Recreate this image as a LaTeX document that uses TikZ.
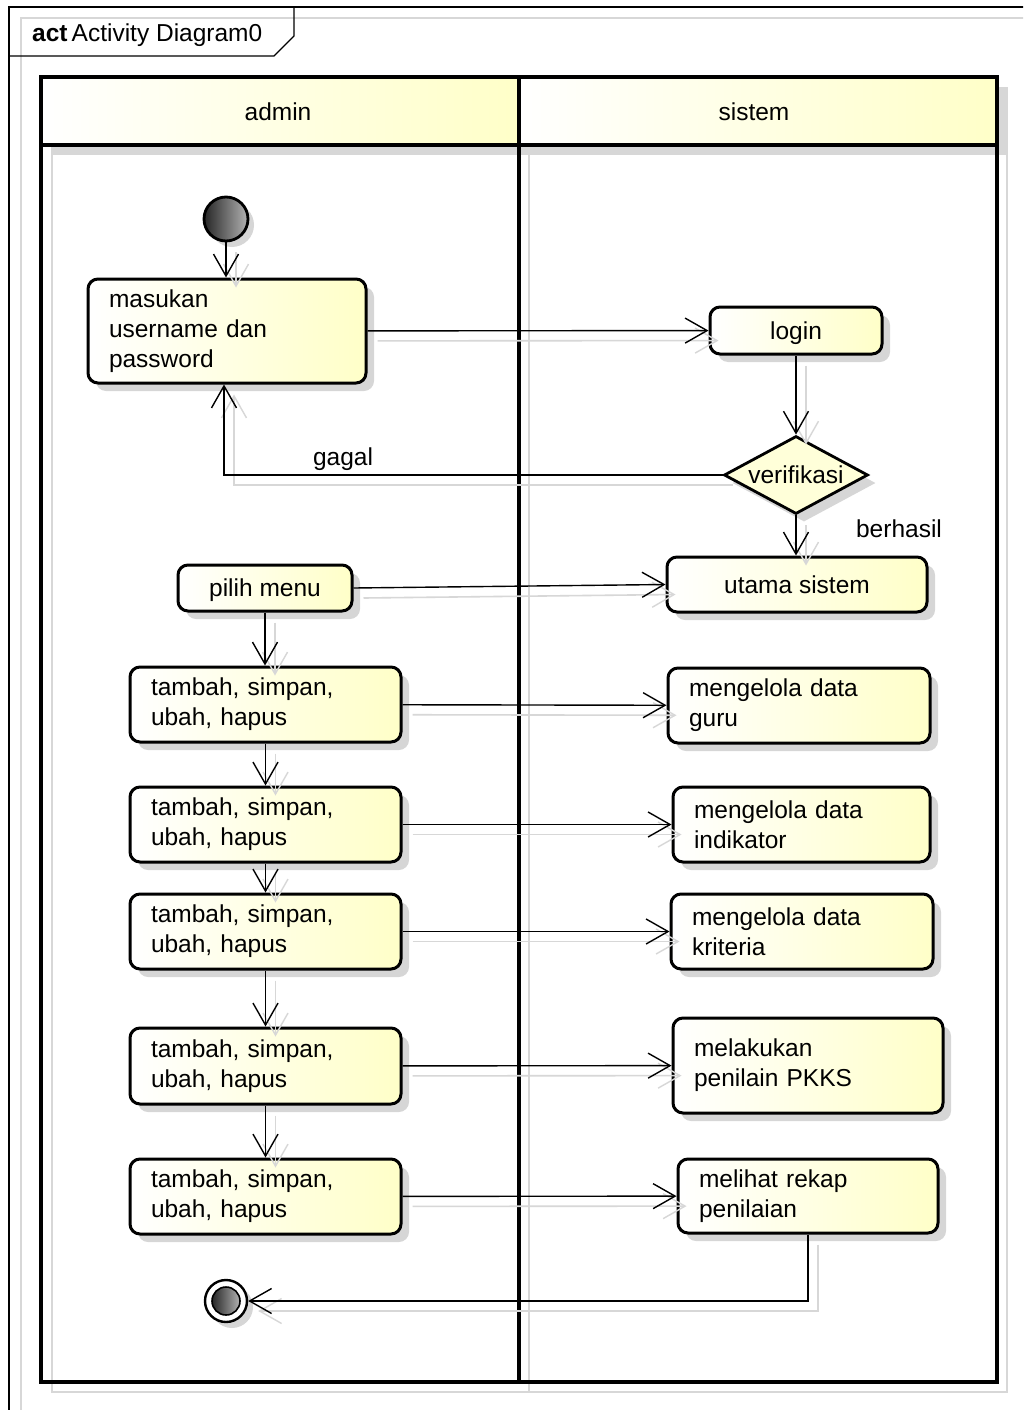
\documentclass[tikz,border=0pt]{standalone}
\usepackage{fontspec}
\setmainfont{Liberation Sans}
\usetikzlibrary{arrows.meta,shapes.geometric,shadows}
\definecolor{uyel}{RGB}{255,255,200}
\definecolor{shd}{RGB}{215,215,215}
\newcommand\dfont{\fontsize{24.5}{30}\selectfont}
\tikzset{
  actbox/.style={draw, line width=3pt, rounded corners=10pt,
    left color=white, right color=uyel,
    drop shadow={shadow xshift=8pt, shadow yshift=-8pt, fill=black, opacity=0.16},
    font=\dfont, align=left, inner xsep=21pt, inner ysep=0pt},
  onebox/.style={actbox, align=center, text depth=0pt},
  flow/.style={line width=1.4pt,
    -{Straight Barb[length=22pt,width=25pt,line width=1.4pt]},
    preaction={draw=shd, line width=1.6pt, transform canvas={shift={(10pt,-10pt)}}}},
  lbl/.style={font=\dfont, inner sep=0pt},
  lanehead/.style={left color=white, right color=uyel, draw=none},
  lane/.style={line width=3.4pt},
  laneshadow/.style={draw=shd, line width=2pt}
}
\begin{document}
\begin{tikzpicture}[x=1pt,y=-1pt]
\useasboundingbox (0,0) rectangle (1023,1410);
\clip (0,0) rectangle (1023,1410);
\fill[white] (0,0) rectangle (1023,1410);
% frame shadow and frame
\draw[shd, line width=1.2pt] (21,1420) -- (21,18) -- (1030,18);
\draw[line width=1.3pt] (9,1420) -- (9,7) -- (1030,7);
\draw[line width=1.3pt] (9,56) -- (274,56) -- (294,36) -- (294,7);
\node[lbl, anchor=base west] (title) at (32,42) {\textbf{act}\,Activity Diagram0};
% lane shadows
\fill[shd] (529,87) rectangle (1007,155);
\fill[shd] (52,87) rectangle (529,155);
\draw[laneshadow] (52,87) -- (52,1392) -- (1007,1392) -- (1007,87);
\draw[laneshadow] (529,87) -- (529,1392);
% lane headers
\path[lanehead] (41,77) rectangle (519,145);
\path[lanehead] (519,77) rectangle (997,145);
\draw[lane] (41,77) rectangle (997,1382);
\draw[lane] (41,145) -- (997,145);
\draw[lane] (519,77) -- (519,1382);
\node[lbl] (admin) at (278,112) {admin};
\node[lbl] (sistem) at (754,112) {sistem};
% initial / final
\node[circle, draw, line width=2.8pt, minimum size=44pt, inner sep=0pt,
  left color=black!85, right color=black!30,
  drop shadow={shadow xshift=6pt, shadow yshift=-6pt, fill=black, opacity=0.16}] (init) at (226,219) {};
\node[circle, draw, line width=2.4pt, minimum size=42pt, inner sep=0pt, fill=white,
  drop shadow={shadow xshift=6pt, shadow yshift=-6pt, fill=black, opacity=0.16}] (final) at (226,1301) {};
\node[circle, draw, line width=1.6pt, minimum size=28pt, inner sep=0pt,
  left color=black!85, right color=black!30] (finalin) at (226,1301) {};
% activities
\node[actbox, minimum height=104pt, text width=236pt] (masukan) at (227,331) {masukan\\username dan\\password};
\node[onebox, minimum height=47pt, minimum width=172pt] (login) at (796,330.5) {login};
\node[diamond, draw, line width=2.8pt, fill=uyel!70, aspect=1.85, inner sep=0pt,
  minimum width=144pt, minimum height=78pt, font=\dfont,
  drop shadow={shadow xshift=8pt, shadow yshift=-8pt, fill=black, opacity=0.16}] (verif) at (796,475) {verifikasi};
\node[onebox, minimum height=55pt, minimum width=260pt] (utama) at (797,584.5) {utama sistem};
\node[onebox, minimum height=46pt, minimum width=174pt] (pilih) at (265,588) {pilih menu};
\node[actbox, minimum height=75pt, text width=229pt] (t1) at (265.5,704.5) {tambah, simpan,\\ubah, hapus};
\node[actbox, minimum height=75pt, text width=229pt] (t2) at (265.5,824.5) {tambah, simpan,\\ubah, hapus};
\node[actbox, minimum height=75pt, text width=229pt] (t3) at (265.5,931.5) {tambah, simpan,\\ubah, hapus};
\node[actbox, minimum height=76pt, text width=229pt] (t4) at (265.5,1066) {tambah, simpan,\\ubah, hapus};
\node[actbox, minimum height=75pt, text width=229pt] (t5) at (265.5,1196.5) {tambah, simpan,\\ubah, hapus};
\node[actbox, minimum height=75pt, text width=220pt] (guru) at (799,705.5) {mengelola data\\guru};
\node[actbox, minimum height=75pt, text width=215pt] (indik) at (801.5,824.5) {mengelola data\\indikator};
\node[actbox, minimum height=75pt, text width=220pt] (krit) at (802,931.5) {mengelola data\\kriteria};
\node[actbox, minimum height=95pt, text width=228pt] (pkks) at (808,1065.5) {melakukan\\penilain PKKS};
\node[actbox, minimum height=74pt, text width=218pt] (rekap) at (808,1196) {melihat rekap\\penilaian};
% connectors
\draw[flow] (init) -- (init |- masukan.north);
\draw[flow] (masukan) -- (login);
\draw[flow] (login) -- (verif);
\coordinate (gcorner) at (224,475);
\draw[flow] (verif.west) -- (gcorner) -- (gcorner |- masukan.south);
\node[lbl] (gagal) at (343,459) {gagal};
\draw[flow] (verif) -- (verif |- utama.north);
\node[lbl] (berhasil) at (899,529) {berhasil};
\draw[flow] (pilih.east) -- (utama.west);
\draw[flow] (pilih) -- (pilih |- t1.north);
\draw[flow] (t1) -- (guru);
\draw[flow] (t1) -- (t2);
\draw[flow] (t2) -- (indik);
\draw[flow] (t2) -- (t3);
\draw[flow] (t3) -- (krit);
\draw[flow] (t3) -- (t4);
\draw[flow] (t4) -- (pkks);
\draw[flow] (t4) -- (t5);
\draw[flow] (t5) -- (rekap);
\draw[flow] (rekap.south) |- (final.east);
\end{tikzpicture}
\end{document}
